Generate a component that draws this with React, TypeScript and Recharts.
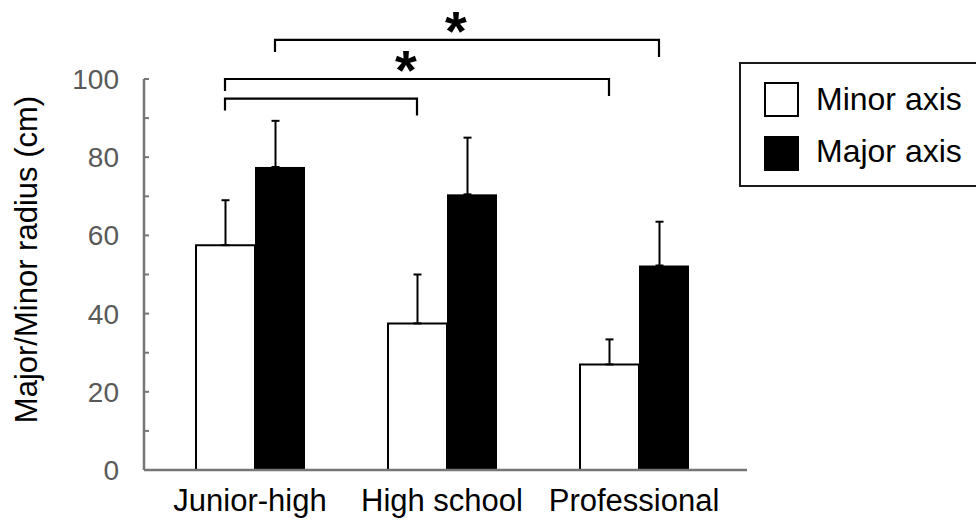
import { BarChart, Bar, XAxis, YAxis, ErrorBar, Legend, ReferenceLine, Label } from 'recharts';

const categories = ['Junior-high', 'High school', 'Professional'];
const minorRadius = [57.5, 37.5, 27];
const minorSd = [11.5, 12.5, 6.4];
const majorRadius = [77.5, 70.5, 52.3];
const majorSd = [11.8, 14.5, 11.2];
const yTicks = [0, 10, 20, 30, 40, 50, 60, 70, 80, 90, 100];
const legendOrder = ['minor', 'major'];

// significance brackets: from / to category, which bar of the pair, height
const bracketFrom = ['Junior-high', 'Junior-high', 'Junior-high'];
const bracketTo = ['High school', 'Professional', 'Professional'];
const bracketSeries = ['minor', 'minor', 'major'];
const bracketLevel = [95, 100, 110];
const bracketStar = [false, true, true];

const data = categories.map((name, i) => ({
  name,
  minor: minorRadius[i],
  minorErr: [0, minorSd[i]],
  major: majorRadius[i],
  majorErr: [0, majorSd[i]],
}));

const FONT = '"Liberation Sans", Arial, Helvetica, sans-serif';
const AXIS = '#767676';
const BAR_SIZE = 59;
const BAR_GAP = -9;
const PAIR_OFFSET = (BAR_SIZE + BAR_GAP) / 2;
const Y_TICK_MARGIN = 25;

// eslint-disable-next-line @typescript-eslint/no-explicit-any
const YTick = ({ x, y, payload }: any) => {
  const axisX = x + Y_TICK_MARGIN;
  return (
    <g>
      <line x1={axisX} x2={axisX + 5} y1={y} y2={y} stroke={AXIS} strokeWidth={2} />
      {payload.value % 20 === 0 && (
        <text x={x} y={y} dy={10} textAnchor="end" fontSize={28} fill="#595959" fontFamily={FONT}>
          {payload.value}
        </text>
      )}
    </g>
  );
};

// eslint-disable-next-line @typescript-eslint/no-explicit-any
const MajorShape = ({ x, y, width, height }: any) => (
  <rect x={x - BAR_GAP} y={y} width={width + BAR_GAP} height={height} fill="#000" />
);

// eslint-disable-next-line @typescript-eslint/no-explicit-any
const Bracket = ({ x1, y1, x2, series, star }: any) => {
  const off = series === 'minor' ? -PAIR_OFFSET : PAIR_OFFSET;
  const a = x1 + off;
  const b = x2 + off;
  return (
    <g>
      <path d={`M${a},${y1 + 12}V${y1}H${b}V${y1 + 17}`} fill="none" stroke="#000" strokeWidth={2.2} />
      {star && (
        <text x={(a + b) / 2 - 11} y={y1 + 10} textAnchor="middle" fontSize={56} fontWeight="bold" fontFamily={FONT}>
          *
        </text>
      )}
    </g>
  );
};

// eslint-disable-next-line @typescript-eslint/no-explicit-any
const LegendBox = ({ payload }: any) => {
  // eslint-disable-next-line @typescript-eslint/no-explicit-any
  const items = [...(payload || [])].sort((a: any, b: any) =>
    legendOrder.indexOf(a.dataKey) - legendOrder.indexOf(b.dataKey));
  return (
    <div style={{
      position: 'relative', width: 240, height: 125, boxSizing: 'border-box',
      border: '2px solid #1a1a1a', background: '#fff', fontFamily: FONT,
    }}>
      {/* eslint-disable-next-line @typescript-eslint/no-explicit-any */}
      {items.map((p: any, i: number) => (
        <div key={p.value}>
          <div style={{
            position: 'absolute', left: 23, top: 18 + i * 54, width: 35, height: 35,
            boxSizing: 'border-box', border: '2px solid #000', background: p.color,
          }} />
          <div style={{
            position: 'absolute', left: 75, top: 19 + i * 52, fontSize: 32,
            lineHeight: '32px', color: '#000', whiteSpace: 'nowrap',
          }}>
            {p.value}
          </div>
        </div>
      ))}
    </div>
  );
};

// eslint-disable-next-line @typescript-eslint/no-explicit-any
const YTitle = ({ viewBox }: any) => {
  const cy = viewBox.y + viewBox.height / 2 - 15;
  const bx = viewBox.x + 37;
  return (
    <text transform="rotate(-90)" x={-cy} y={bx} textAnchor="middle" fontSize={31} fill="#000" fontFamily={FONT}>
      Major/Minor radius (cm)
    </text>
  );
};

export default function App() {
  return (
    <div style={{ position: 'absolute', left: 0, top: 0, width: 976, height: 520, overflow: 'hidden', background: '#fff' }}>
      <BarChart
        width={976}
        height={520}
        data={data}
        barSize={BAR_SIZE}
        barGap={BAR_GAP}
        margin={{ top: 79, right: 229, left: 0, bottom: 0 }}
        style={{ fontFamily: FONT }}
      >
        <XAxis
          dataKey="name"
          height={50}
          padding={{ left: 10, right: 17 }}
          tickLine={false}
          tickSize={0}
          tickMargin={19}
          axisLine={{ stroke: AXIS, strokeWidth: 2.5 }}
          tick={{ fontSize: 31, fill: '#000', fontFamily: FONT }}
          interval={0}
        />
        <YAxis
          width={144}
          domain={[0, 100]}
          ticks={yTicks}
          interval={0}
          tickLine={false}
          tickSize={0}
          tickMargin={Y_TICK_MARGIN}
          axisLine={{ stroke: AXIS, strokeWidth: 2.5 }}
          tick={<YTick />}
        >
          <Label content={<YTitle />} />
        </YAxis>
        <Legend
          layout="vertical"
          align="center"
          verticalAlign="middle"
          content={<LegendBox />}
          wrapperStyle={{ left: 739, top: 62, width: 240, height: 125 }}
        />
        <Bar dataKey="minor" name="Minor axis" fill="#fff" stroke="#000" strokeWidth={2} isAnimationActive={false}>
          <ErrorBar dataKey="minorErr" width={4} stroke="#000" strokeWidth={2} direction="y" />
        </Bar>
        <Bar dataKey="major" name="Major axis" fill="#000" shape={<MajorShape />} isAnimationActive={false}>
          <ErrorBar dataKey="majorErr" width={4} stroke="#000" strokeWidth={2} direction="y" />
        </Bar>
        {bracketLevel.map((lvl, i) => (
          <ReferenceLine
            key={i}
            segment={[{ x: bracketFrom[i], y: lvl }, { x: bracketTo[i], y: lvl }]}
            ifOverflow="visible"
            stroke="#000"
            // eslint-disable-next-line @typescript-eslint/no-explicit-any
            shape={(p: any) => <Bracket {...p} series={bracketSeries[i]} star={bracketStar[i]} />}
          />
        ))}
      </BarChart>
    </div>
  );
}
